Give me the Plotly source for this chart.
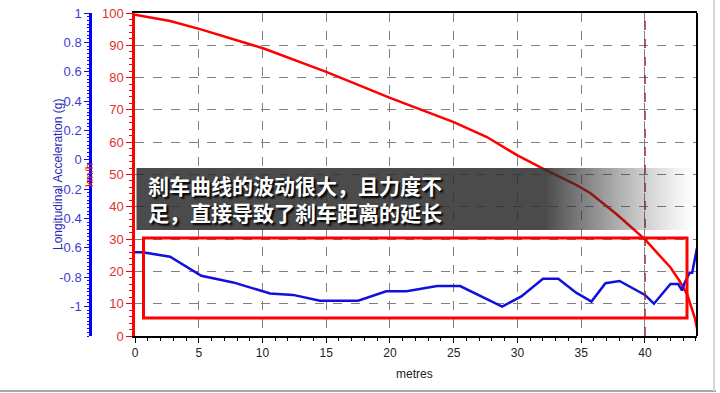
import plotly.graph_objects as go

# ---------------- data ----------------
speed_dist = [0, 2.75, 5.1, 10.1, 15.0, 20.0, 25.0, 27.6, 30.0, 32.0, 34.6, 35.7,
              37.8, 40.0, 42.0, 42.7, 43.3, 43.9, 44.2]
speed_kmh = [99.5, 97.5, 95.0, 89.0, 81.8, 73.7, 66.2, 61.6, 55.9, 51.8, 46.8, 44.3,
             37.6, 29.9, 21.2, 17.1, 13.0, 5.7, 0.3]

acc_dist = [0, 0.6, 2.75, 5.2, 7.7, 10.6, 12.4, 14.5, 17.5, 19.7, 21.3, 23.7, 25.5,
            28.8, 30.3, 32.0, 33.2, 34.6, 35.8, 36.9, 38.0, 40.0, 40.7, 42.0, 42.6,
            42.9, 43.1, 43.5, 43.7, 44.08]
acc_g = [-0.63, -0.63, -0.66, -0.79, -0.835, -0.91, -0.92, -0.96, -0.96, -0.895,
         -0.895, -0.86, -0.86, -1.0, -0.93, -0.81, -0.81, -0.905, -0.965, -0.84,
         -0.825, -0.92, -0.98, -0.845, -0.845, -0.89, -0.84, -0.77, -0.77, -0.6]

x_ticks = [0, 5, 10, 15, 20, 25, 30, 35, 40]
kmh_ticks = [0, 10, 20, 30, 40, 50, 60, 70, 80, 90, 100]
g_ticks = [1, 0.8, 0.6, 0.4, 0.2, 0, -0.2, -0.4, -0.6, -0.8, -1]
g_tick_text = ["1", "0.8", "0.6", "0.4", "0.2", "0", "-0.2", "-0.4", "-0.6", "-0.8", "-1"]
marker_x = 40
caption_1 = "刹车曲线的波动很大，且力度不"
caption_2 = "足，直接导致了刹车距离的延长"

# ---------------- geometry helpers ----------------
W, H = 720, 393
TOP, BOT = 13, 336
def px(x):
    return x / W
def py(y):
    return (BOT - y) / (BOT - TOP)

FONT = "Liberation Sans, Arial, sans-serif"
RED = "#ff0000"
BLUE = "#1010dc"

fig = go.Figure()
fig.add_trace(go.Scatter(x=speed_dist, y=speed_kmh, mode="lines",
                         line=dict(color=RED, width=2.5), yaxis="y",
                         showlegend=False, hoverinfo="skip"))
fig.add_trace(go.Scatter(x=acc_dist, y=acc_g, mode="lines",
                         line=dict(color=BLUE, width=2.5), yaxis="y2",
                         showlegend=False, hoverinfo="skip"))

fig.update_layout(
    width=W, height=H,
    margin=dict(l=0, r=0, t=TOP, b=H - BOT, autoexpand=False),
    paper_bgcolor="white", plot_bgcolor="white",
    font=dict(family=FONT),
    xaxis=dict(domain=[135 / W, 697 / W], range=[0, 44.08], automargin=False,
               tickvals=x_ticks, ticks="outside", ticklen=5, tickcolor="black",
               tickfont=dict(size=12, color="#222222"),
               showline=True, linecolor="black", linewidth=2, mirror=True,
               showgrid=True, gridcolor="#808080", griddash="dash", gridwidth=1,
               zeroline=False,
               minor=dict(dtick=1, ticks="outside", ticklen=3, tickcolor="black",
                          showgrid=False)),
    yaxis=dict(range=[0, 100], tickvals=kmh_ticks, ticks="outside", ticklen=6,
               automargin=False,
               tickcolor=RED, tickfont=dict(size=13, color="#e03030"),
               showline=True, linecolor=RED, linewidth=2.5,
               showgrid=True, gridcolor="#808080", griddash="dash", gridwidth=1,
               zeroline=False,
               minor=dict(dtick=2, ticks="outside", ticklen=3, tickcolor=RED,
                          showgrid=False)),
    yaxis2=dict(range=[-1.2, 1.0], overlaying="y", side="left", anchor="free",
                position=90 / W, tickvals=g_ticks, ticktext=g_tick_text,
                automargin=False,
                ticks="outside", ticklen=5, tickcolor=BLUE,
                tickfont=dict(size=13, color="#3c3cd0"),
                showline=True, linecolor="#0000ff", linewidth=2.5,
                showgrid=False, zeroline=False,
                minor=dict(dtick=0.025, ticks="outside", ticklen=2, tickcolor=BLUE,
                           showgrid=False)),
)

shapes = []
# right frame edge
shapes.append(dict(type="line", xref="x domain", yref="y domain", x0=1, x1=1, y0=0, y1=1,
                   line=dict(color="black", width=2), layer="above"))
# vertical dashed marker at 40 m
shapes.append(dict(type="line", xref="x", yref="y domain", x0=marker_x, x1=marker_x,
                   y0=0, y1=1, line=dict(color="#8a2a2a", width=1.5, dash="dash")))

# dark banner with gradient fade on the right
b_top, b_bot = 168, 230
shapes.append(dict(type="rect", xref="paper", yref="paper", x0=px(136.5), x1=px(545),
                   y0=py(b_bot), y1=py(b_top), fillcolor="rgba(45,45,45,0.86)",
                   line=dict(width=0), layer="above"))
n = 75
fx0, fx1 = 545, 695
for i in range(n):
    a0 = fx0 + (fx1 - fx0) * i / n
    a1 = fx0 + (fx1 - fx0) * (i + 1) / n
    t = (i + 0.5) / n
    op = 0.86 * (1 - t) ** 1.2
    shapes.append(dict(type="rect", xref="paper", yref="paper", x0=px(a0), x1=px(a1),
                       y0=py(b_bot), y1=py(b_top),
                       fillcolor="rgba(45,45,45,%.3f)" % op,
                       line=dict(width=0), layer="above"))
# red highlight rectangle
shapes.append(dict(type="rect", xref="paper", yref="paper", x0=px(143.5), x1=px(687),
                   y0=py(318), y1=py(238), line=dict(color=RED, width=3),
                   fillcolor="rgba(0,0,0,0)", layer="above"))
# outer picture frame (bottom / right)
shapes.append(dict(type="line", xref="paper", yref="paper", x0=0, x1=px(716),
                   y0=py(391), y1=py(391), line=dict(color="#a8a8a8", width=2)))
shapes.append(dict(type="line", xref="paper", yref="paper", x0=px(714), x1=px(714),
                   y0=py(391), y1=py(0), line=dict(color="#d4d4d4", width=2)))
fig.update_layout(shapes=shapes)

cap_font = dict(size=21, color="white", family="Noto Sans CJK SC", weight="bold",
                shadow="2px 2px 2px #000")
annotations = [
    dict(text="Longitudinal Acceleration (g)", xref="paper", yref="paper",
         x=px(58), y=py(175), xanchor="center", yanchor="middle",
         textangle=-90, showarrow=False,
         font=dict(size=12, color="#2a2ab8", family=FONT)),
    dict(text="km/h", xref="paper", yref="paper", x=px(89), y=py(175),
         xanchor="center", yanchor="middle",
         textangle=-90, showarrow=False,
         font=dict(size=11, color="#e02020", family=FONT)),
    dict(text="metres", xref="paper", yref="paper", x=px(415), y=py(374),
         xanchor="center", yanchor="middle",
         showarrow=False, font=dict(size=12, color="#222222", family=FONT)),
    dict(text=caption_1 + "<br>" + caption_2, xref="paper", yref="paper",
         x=px(146), y=py(198.5), xanchor="left", yanchor="middle", align="left",
         showarrow=False, font=cap_font),
]
fig.update_layout(annotations=annotations)

fig.write_html("out.html", config={"displayModeBar": False},
               post_script="document.body.style.margin='0';document.body.style.padding='0';")
